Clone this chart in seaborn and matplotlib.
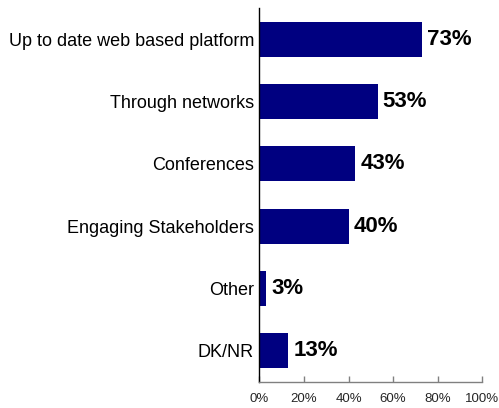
import matplotlib
matplotlib.use("Agg")
import matplotlib.pyplot as plt
from matplotlib.ticker import PercentFormatter
import seaborn as sns
import pandas as pd

categories = [
    "Up to date web based platform",
    "Through networks",
    "Conferences",
    "Engaging Stakeholders",
    "Other",
    "DK/NR",
]
values = [73, 53, 43, 40, 3, 13]
x_ticks = [0, 20, 40, 60, 80, 100]

sns.set_theme(style="white")
plt.rcParams["font.family"] = ["Liberation Sans", "DejaVu Sans"]

df = pd.DataFrame({"category": categories, "value": values})

fig = plt.figure(figsize=(4.99, 4.08), dpi=100)
ax = fig.add_axes([0.520, 0.0637, 0.4465, 0.9163])

sns.barplot(data=df, y="category", x="value", orient="h", color="#000080",
            saturation=1, width=0.56, linewidth=0, ax=ax)

for i, v in enumerate(values):
    ax.annotate(f"{v}%", xy=(v, i), xytext=(3.5, 0), textcoords="offset points",
                va="center", ha="left", fontsize=16, fontweight="bold",
                color="black")

ax.set_xlim(0, 100)
ax.set_ylim(5.5, -0.5)
ax.set_xticks(x_ticks)
ax.xaxis.set_major_formatter(PercentFormatter(decimals=0))
ax.set_xlabel("")
ax.set_ylabel("")

for side in ("top", "right"):
    ax.spines[side].set_visible(False)
ax.spines["left"].set_color("black")
ax.spines["left"].set_linewidth(1.0)
ax.spines["bottom"].set_color("#808080")
ax.spines["bottom"].set_linewidth(1.0)

ax.tick_params(axis="x", direction="in", length=4, width=1, color="#808080",
               labelsize=9.5, pad=8, bottom=True)
ax.tick_params(axis="y", length=0, labelsize=13, pad=4, labelcolor="black")

fig.savefig("out.png", dpi=100)
